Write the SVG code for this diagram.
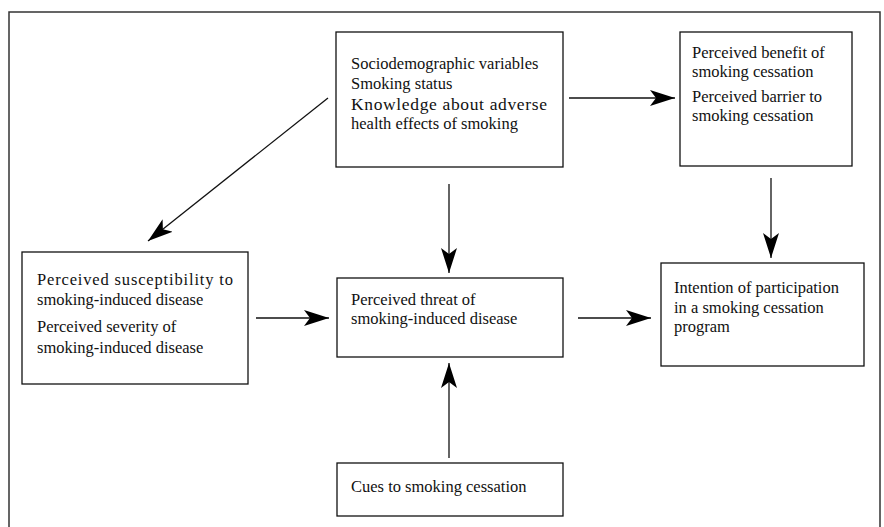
<svg xmlns="http://www.w3.org/2000/svg" width="884" height="527" viewBox="0 0 884 527">
<style>
.box{fill:#fff;stroke:#111;stroke-width:1.3}
.t{font-family:'Liberation Serif','DejaVu Serif',serif;font-size:16.5px;fill:#111}
.c{stroke:#111;stroke-width:1.3;fill:none;marker-end:url(#ah)}
</style>
<defs>
<marker id="ah" markerUnits="userSpaceOnUse" markerWidth="26" markerHeight="18" refX="25" refY="8" orient="auto">
<path d="M0,0 L25,8 L0,16 L6,8 Z" fill="#000"/>
</marker>
</defs>
<rect width="884" height="527" fill="#fff"/>
<path d="M9,527 L9,12 L880,12 L880,527" fill="none" stroke="#333" stroke-width="1.5"/>
<g id="connectors">
<line class="c" x1="569" y1="98" x2="675" y2="98"/>
<line class="c" x1="328" y1="98" x2="148" y2="241"/>
<line class="c" x1="449" y1="184" x2="449" y2="273"/>
<line class="c" x1="771" y1="178" x2="771" y2="258"/>
<line class="c" x1="256" y1="318" x2="329" y2="318"/>
<line class="c" x1="578" y1="318" x2="651" y2="318"/>
<line class="c" x1="449" y1="458" x2="449" y2="363"/>
</g>
<g id="n1">
<rect class="box" x="336" y="32" width="227" height="135"/>
<text class="t" x="351" y="69">Sociodemographic variables</text>
<text class="t" x="351" y="89">Smoking status</text>
<text class="t" x="351" y="110" textLength="196" lengthAdjust="spacing" style="font-size:17.5px">Knowledge about adverse</text>
<text class="t" x="351" y="129">health effects of smoking</text>
</g>
<g id="n2">
<rect class="box" x="680" y="32" width="172" height="134"/>
<text class="t" x="692" y="58">Perceived benefit of</text>
<text class="t" x="692" y="77">smoking cessation</text>
<text class="t" x="692" y="102">Perceived barrier to</text>
<text class="t" x="692" y="121">smoking cessation</text>
</g>
<g id="n3">
<rect class="box" x="22" y="252" width="226" height="132"/>
<text class="t" x="37" y="285" textLength="196" lengthAdjust="spacing">Perceived susceptibility to</text>
<text class="t" x="37" y="305">smoking-induced disease</text>
<text class="t" x="37" y="332">Perceived severity of</text>
<text class="t" x="37" y="353">smoking-induced disease</text>
</g>
<g id="n4">
<rect class="box" x="337" y="278" width="226" height="79"/>
<text class="t" x="351" y="305">Perceived threat of</text>
<text class="t" x="351" y="324">smoking-induced disease</text>
</g>
<g id="n5">
<rect class="box" x="661" y="263" width="203" height="103"/>
<text class="t" x="674" y="293">Intention of participation</text>
<text class="t" x="674" y="313">in a smoking cessation</text>
<text class="t" x="674" y="332">program</text>
</g>
<g id="n6">
<rect class="box" x="337" y="463" width="226" height="53"/>
<text class="t" x="351" y="492">Cues to smoking cessation</text>
</g>
</svg>
